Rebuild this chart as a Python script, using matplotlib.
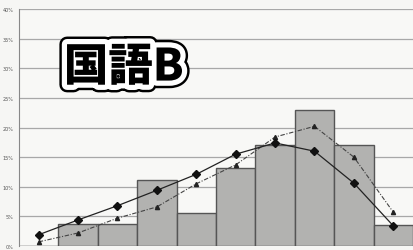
import matplotlib.pyplot as plt
import matplotlib.patheffects as pe
import numpy as np

# --- Data (share in %) ---
bins = np.arange(10)
bar_share = [0.0, 3.7, 3.7, 11.1, 5.6, 13.2, 17.0, 22.9, 17.0, 3.5]
solid_share = [1.9, 4.4, 6.8, 9.4, 12.1, 15.5, 17.4, 16.0, 10.6, 3.4]
dashed_share = [0.7, 2.2, 4.7, 6.6, 10.5, 13.7, 18.4, 20.2, 15.0, 5.7]
y_ticks = [0, 5, 10, 15, 20, 25, 30, 35, 40]
y_labels = [f"{v}%" for v in y_ticks]
title = "国語B"

# --- Figure ---
fig = plt.figure(figsize=(4.13, 2.51), dpi=100, facecolor="#f6f6f4")
ax = fig.add_axes([0.046, 0.016, 0.954, 0.944])
ax.set_facecolor("#f8f8f6")

ax.bar(bins, bar_share, width=1.0, color="#b2b2b0", edgecolor="#555555",
       linewidth=1.0, zorder=2)
ax.plot(bins, solid_share, color="#222222", linewidth=0.9, marker="D",
        markersize=3.6, markerfacecolor="#111111", markeredgecolor="#111111", zorder=4)
ax.plot(bins, dashed_share, color="#444444", linewidth=0.8, linestyle=(0, (4, 1.5, 1, 1.5)),
        marker="^", markersize=3, markerfacecolor="#222222", markeredgecolor="#222222", zorder=3)

ax.set_xlim(-0.5, 9.5)
ax.set_ylim(0, 40)
ax.set_yticks(y_ticks)
ax.set_yticklabels(y_labels, fontsize=3.5, color="#555555")
ax.set_xticks([])
ax.tick_params(axis="y", length=0, pad=4)
ax.yaxis.grid(True, color="#a8a8a8", linewidth=0.9, zorder=1)
ax.set_axisbelow(True)
for side in ["top", "right", "bottom"]:
    ax.spines[side].set_visible(False)
ax.spines["left"].set_color("#888888")
ax.spines["left"].set_linewidth(0.8)

# sticker-style title
ax.text(0.266, 0.755, title, transform=ax.transAxes, ha="center", va="center",
        fontsize=32, fontweight="heavy", color="black",
        family=["Noto Sans CJK JP", "DejaVu Sans"], zorder=6,
        path_effects=[pe.Stroke(linewidth=11, foreground="black"),
                      pe.Stroke(linewidth=7.5, foreground="white"),
                      pe.Normal()])

fig.savefig("out.png", dpi=100, facecolor=fig.get_facecolor())
